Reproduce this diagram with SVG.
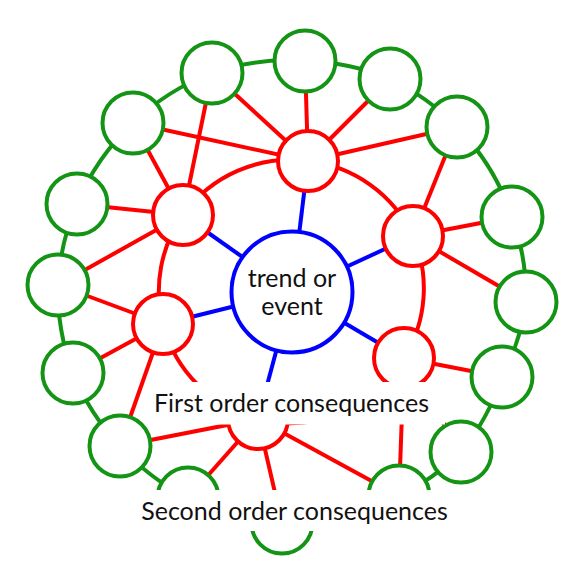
<svg xmlns="http://www.w3.org/2000/svg" width="584" height="584" viewBox="0 0 584 584">
<style>
.g{fill:none;stroke:#149414;stroke-width:4}
.r{fill:none;stroke:#ff0000;stroke-width:4}
.b{fill:none;stroke:#0000ff;stroke-width:4}
.gn{fill:#ffffff;stroke:#149414;stroke-width:4}
.rn{fill:#ffffff;stroke:#ff0000;stroke-width:4}
.bn{fill:#ffffff;stroke:#0000ff;stroke-width:4}
.t{font-family:Lato,"Liberation Sans",sans-serif;font-size:25px;fill:#111111;text-anchor:middle}
</style>
<rect width="584" height="584" fill="#ffffff"/>
<g id="connectors">
<!-- second-order ring -->
<path class="g" d="M212 73 A232 232 0 0 1 305 61"/>
<path class="g" d="M305 61 A232 232 0 0 1 390 79"/>
<path class="g" d="M390 79 A232 232 0 0 1 457 127"/>
<path class="g" d="M457 127 A232 232 0 0 1 512 217"/>
<path class="g" d="M512 217 A232 232 0 0 1 526 302"/>
<path class="g" d="M526 302 A232 232 0 0 1 502 377"/>
<path class="g" d="M502 377 A232 232 0 0 1 461 452"/>
<path class="g" d="M461 452 A232 232 0 0 1 399 496"/>
<path class="g" d="M399 496 A232 232 0 0 1 282 523"/>
<path class="g" d="M282 523 A232 232 0 0 1 188 498"/>
<path class="g" d="M188 498 A232 232 0 0 1 120 446"/>
<path class="g" d="M120 446 A232 232 0 0 1 73 373"/>
<path class="g" d="M73 373 A232 232 0 0 1 58 285"/>
<path class="g" d="M58 285 A232 232 0 0 1 77 204"/>
<path class="g" d="M77 204 A232 232 0 0 1 133 123"/>
<path class="g" d="M133 123 A232 232 0 0 1 212 73"/>
<!-- first-order ring -->
<path class="r" d="M308 161 A132 132 0 0 1 413 236"/>
<path class="r" d="M413 236 A132 132 0 0 1 404 358"/>
<path class="r" d="M404 358 A132 132 0 0 1 258 419"/>
<path class="r" d="M258 419 A132 132 0 0 1 163 324"/>
<path class="r" d="M163 324 A132 132 0 0 1 183 215"/>
<path class="r" d="M183 215 A132 132 0 0 1 308 161"/>
<!-- first to second order -->
<line class="r" x1="308" y1="161" x2="133" y2="123"/>
<line class="r" x1="308" y1="161" x2="212" y2="73"/>
<line class="r" x1="308" y1="161" x2="305" y2="61"/>
<line class="r" x1="308" y1="161" x2="390" y2="79"/>
<line class="r" x1="308" y1="161" x2="457" y2="127"/>
<line class="r" x1="183" y1="215" x2="133" y2="123"/>
<line class="r" x1="183" y1="215" x2="212" y2="73"/>
<line class="r" x1="183" y1="215" x2="77" y2="204"/>
<line class="r" x1="183" y1="215" x2="58" y2="285"/>
<line class="r" x1="413" y1="236" x2="457" y2="127"/>
<line class="r" x1="413" y1="236" x2="512" y2="217"/>
<line class="r" x1="413" y1="236" x2="526" y2="302"/>
<line class="r" x1="163" y1="324" x2="58" y2="285"/>
<line class="r" x1="163" y1="324" x2="73" y2="373"/>
<line class="r" x1="163" y1="324" x2="120" y2="446"/>
<line class="r" x1="404" y1="358" x2="502" y2="377"/>
<line class="r" x1="404" y1="358" x2="461" y2="452"/>
<line class="r" x1="404" y1="358" x2="399" y2="496"/>
<line class="r" x1="258" y1="419" x2="120" y2="446"/>
<line class="r" x1="258" y1="419" x2="188" y2="498"/>
<line class="r" x1="258" y1="419" x2="282" y2="523"/>
<line class="r" x1="258" y1="419" x2="399" y2="496"/>
<!-- centre to first order -->
<line class="b" x1="292" y1="292" x2="308" y2="161"/>
<line class="b" x1="292" y1="292" x2="183" y2="215"/>
<line class="b" x1="292" y1="292" x2="413" y2="236"/>
<line class="b" x1="292" y1="292" x2="163" y2="324"/>
<line class="b" x1="292" y1="292" x2="404" y2="358"/>
<line class="b" x1="292" y1="292" x2="258" y2="419"/>
</g>
<g id="g1"><circle class="gn" cx="212" cy="73" r="30.5"/></g>
<g id="g2"><circle class="gn" cx="305" cy="61" r="30.5"/></g>
<g id="g3"><circle class="gn" cx="390" cy="79" r="30.5"/></g>
<g id="g4"><circle class="gn" cx="457" cy="127" r="30.5"/></g>
<g id="g5"><circle class="gn" cx="512" cy="217" r="30.5"/></g>
<g id="g6"><circle class="gn" cx="526" cy="302" r="30.5"/></g>
<g id="g7"><circle class="gn" cx="502" cy="377" r="30.5"/></g>
<g id="g8"><circle class="gn" cx="461" cy="452" r="30.5"/></g>
<g id="g9"><circle class="gn" cx="399" cy="496" r="30.5"/></g>
<g id="g10"><circle class="gn" cx="282" cy="523" r="30.5"/></g>
<g id="g11"><circle class="gn" cx="188" cy="498" r="30.5"/></g>
<g id="g12"><circle class="gn" cx="120" cy="446" r="30.5"/></g>
<g id="g13"><circle class="gn" cx="73" cy="373" r="30.5"/></g>
<g id="g14"><circle class="gn" cx="58" cy="285" r="30.5"/></g>
<g id="g15"><circle class="gn" cx="77" cy="204" r="30.5"/></g>
<g id="g16"><circle class="gn" cx="133" cy="123" r="30.5"/></g>
<g id="r1"><circle class="rn" cx="308" cy="161" r="30"/></g>
<g id="r2"><circle class="rn" cx="183" cy="215" r="30"/></g>
<g id="r3"><circle class="rn" cx="413" cy="236" r="30"/></g>
<g id="r4"><circle class="rn" cx="163" cy="324" r="30"/></g>
<g id="r5"><circle class="rn" cx="404" cy="358" r="30"/></g>
<g id="r6"><circle class="rn" cx="258" cy="419" r="30"/></g>
<g id="centre">
<circle class="bn" cx="292" cy="292" r="60.5"/>
<text class="t" x="292" y="287">trend or</text>
<text class="t" x="292" y="315">event</text>
</g>
<g id="label-first">
<rect x="145" y="382" width="300" height="42.5" fill="#ffffff"/>
<text class="t" x="291.5" y="412">First order consequences</text>
</g>
<g id="label-second">
<rect x="133" y="490" width="325" height="41" fill="#ffffff"/>
<text class="t" x="294.5" y="520">Second order consequences</text>
</g>
</svg>
